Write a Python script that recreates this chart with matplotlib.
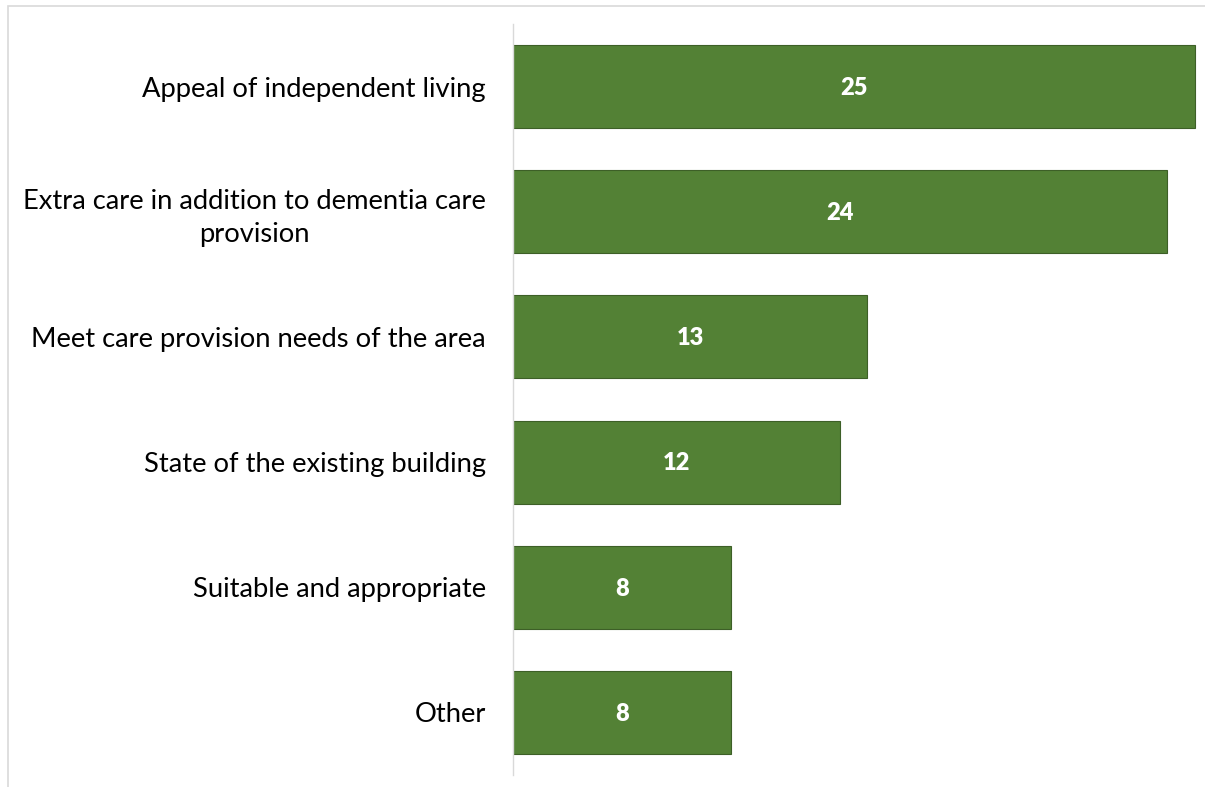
import matplotlib
matplotlib.use("Agg")
import matplotlib.pyplot as plt
from matplotlib.patches import Rectangle

categories = ["Appeal of independent living",
              "Extra care in addition to dementia care\nprovision",
              "Meet care provision needs of the area",
              "State of the existing building",
              "Suitable and appropriate",
              "Other"]
counts = [25, 24, 13, 12, 8, 8]

bar_color = "#538135"

plt.rcParams["font.family"] = ["Lato", "DejaVu Sans"]

fig = plt.figure(figsize=(12.05, 7.87), dpi=100)
ax = fig.add_axes([513 / 1205, 12 / 787, (1200 - 513) / 1205, 751 / 787])

# light grey frame round the chart area, like the source export
fig.patches.append(Rectangle((8 / 1205, -0.05), 1.1, (787 - 6) / 787 + 0.05,
                             transform=fig.transFigure, fill=False,
                             edgecolor="#d9d9d9", linewidth=1.2))

y = list(range(len(categories)))
bars = ax.barh(y, counts, height=0.664, color=bar_color,
               edgecolor="#3d5f27", linewidth=0.8)

for b, v in zip(bars, counts):
    ax.text(b.get_width() / 2, b.get_y() + b.get_height() / 2 + 0.01, str(v),
            ha="center", va="center", color="white", fontsize=17,
            fontweight="heavy")

ax.set_yticks(y)
ax.set_yticklabels(categories, fontsize=19.7, multialignment="center",
                   color="#000000", linespacing=1.4)
ax.tick_params(axis="y", length=0, pad=19.5)
ax.set_ylim(len(categories) - 0.5, -0.5)
ax.set_xlim(0, 25.2)
ax.set_xticks([])

for s in ["top", "right", "bottom"]:
    ax.spines[s].set_visible(False)
ax.spines["left"].set_color("#d9d9d9")
ax.spines["left"].set_linewidth(1)

fig.savefig("out.png", dpi=100)
